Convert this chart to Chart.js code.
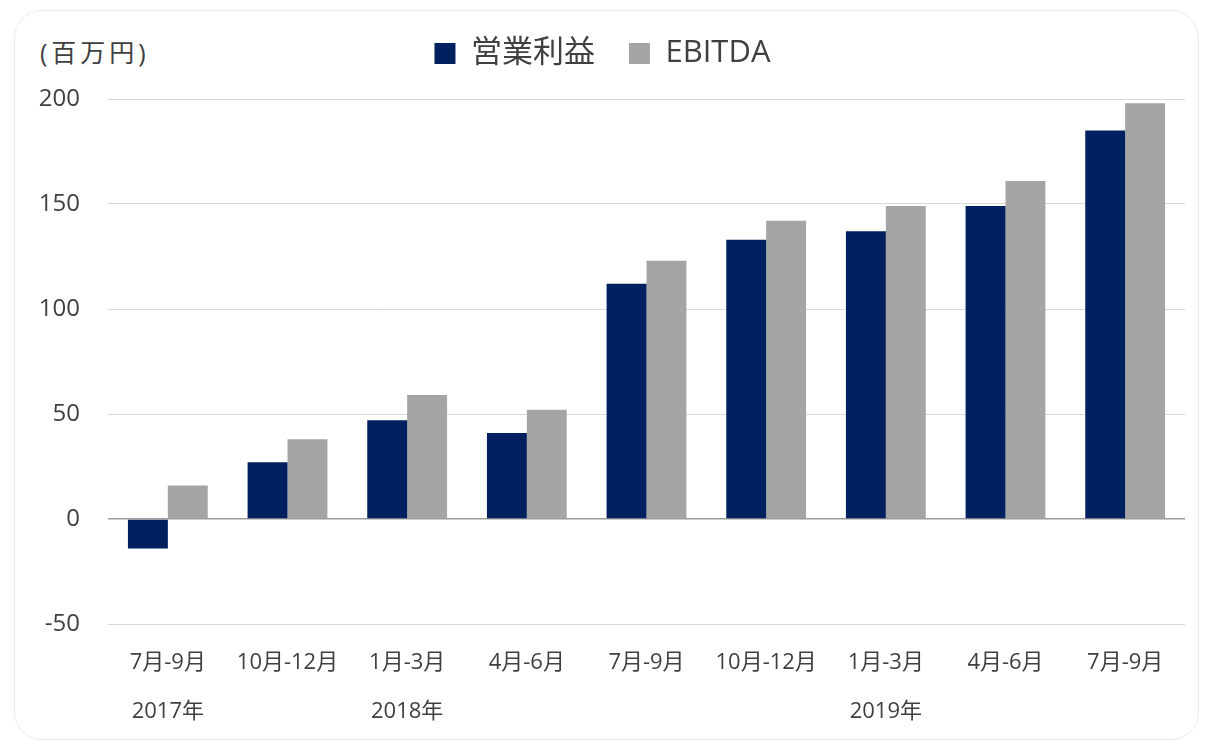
<!DOCTYPE html>
<html>
<head>
<meta charset="utf-8">
<script src="https://cdn.jsdelivr.net/npm/chart.js@4"></script>
<style>
  body { margin: 0; background: #fff; }
  #wrap { position: relative; width: 1207px; height: 748px; }
  #frame { position: absolute; left: 14px; top: 10px; width: 1185px; height: 730px;
    border: 1px solid #ececec; border-radius: 28px; box-sizing: border-box; }
  #unit { position: absolute; left: 40px; top: 35px; font: 25px "Open Sans", "Noto Sans CJK JP", sans-serif;
    color: #404040; letter-spacing: 4px; line-height: 34px; }
  canvas { position: absolute; left: 0; top: 0; }
</style>
</head>
<body>
<div id="wrap">
  <div id="frame"></div>
  <div id="unit">(百万円)</div>
  <canvas id="grafico" width="1207" height="748"></canvas>
</div>
<script>
const trimestres = ["7月-9月", "10月-12月", "1月-3月", "4月-6月", "7月-9月", "10月-12月", "1月-3月", "4月-6月", "7月-9月"];
const anos = ["2017年", "", "2018年", "", "", "", "2019年", "", ""];
const lucroOperacional = [-14, 27, 47, 41, 112, 133, 137, 149, 185];
const ebitda = [16, 38, 59, 52, 123, 142, 149, 161, 198];

const fonte = '"Open Sans", "Noto Sans CJK JP", sans-serif';
const rotulos = trimestres.map((t, i) => [t, anos[i]]);

// legenda ocupa altura fixa ate o topo da area do grafico
const alturaLegenda = {
  id: "alturaLegenda",
  beforeInit(chart) {
    const fitOriginal = chart.legend.fit;
    chart.legend.fit = function () {
      fitOriginal.bind(chart.legend)();
      this.height = 95;
    };
  },
};

const ctx = document.getElementById("grafico");
window.myCharts = new Chart(ctx, {
  type: "bar",
  data: {
    labels: rotulos,
    datasets: [
      {
        label: "営業利益",
        data: lucroOperacional,
        backgroundColor: "#00205f",
        barPercentage: 1,
        categoryPercentage: 0.667,
      },
      {
        label: "EBITDA",
        data: ebitda,
        backgroundColor: "#a5a5a5",
        barPercentage: 1,
        categoryPercentage: 0.667,
      },
    ],
  },
  plugins: [alturaLegenda],
  options: {
    responsive: false,
    animation: false,
    layout: { padding: { left: 20, right: 22, top: 4, bottom: 14 } },
    plugins: {
      tooltip: { enabled: false },
      legend: {
        position: "top",
        labels: {
          boxWidth: 21,
          boxHeight: 21,
          padding: 34,
          color: "#404040",
          font: { family: fonte, size: 31 },
        },
      },
    },
    scales: {
      x: {
        grid: { display: false },
        border: { display: false },
        ticks: {
          color: "#404040",
          font: { family: fonte, size: 22, lineHeight: 2.2 },
          maxRotation: 0,
          autoSkip: false,
          padding: 7,
        },
        afterFit: (scale) => { scale.height = 110; },
      },
      y: {
        min: -50,
        max: 200,
        grid: {
          color: (c) => (c.tick && c.tick.value === 0 ? "#9a9a9a" : "#d9d9d9"),
          lineWidth: (c) => (c.tick && c.tick.value === 0 ? 1.5 : 1),
          drawTicks: false,
        },
        border: { display: false },
        ticks: {
          stepSize: 50,
          color: "#404040",
          font: { family: fonte, size: 24 },
          padding: 28,
        },
        afterFit: (scale) => { scale.width = 88; },
      },
    },
  },
});
</script>
</body>
</html>
